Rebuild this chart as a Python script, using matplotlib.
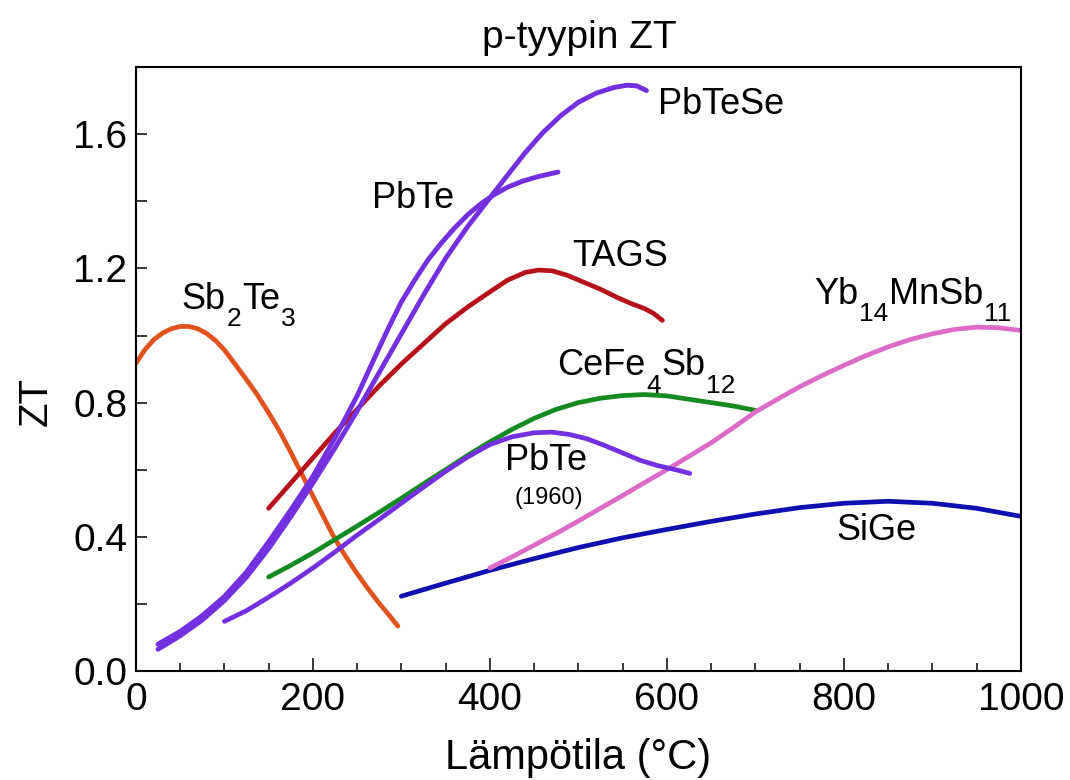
import matplotlib
matplotlib.use("Agg")
import matplotlib.pyplot as plt
from matplotlib.ticker import FixedLocator, MultipleLocator

plt.rcParams['font.family'] = ['Liberation Sans', 'DejaVu Sans']

# ---------------- data ----------------
sb2te3_T = [0, 10, 20, 30, 40, 50, 60, 70, 80, 90, 100, 112, 124, 136, 150, 163, 175, 185, 200, 212,
            223, 235, 248, 261, 274, 286, 296]
sb2te3_ZT = [0.917, 0.957, 0.987, 1.007, 1.02, 1.027, 1.027, 1.02, 1.006, 0.985, 0.957, 0.915, 0.872,
             0.828, 0.77, 0.712, 0.652, 0.6, 0.522, 0.46, 0.403, 0.35, 0.298, 0.25, 0.205, 0.167, 0.134]

tags_T = [150, 175, 200, 225, 250, 275, 300, 325, 350, 375, 400, 420, 440, 455, 470, 487, 505, 525, 545,
          560, 575, 585, 595]
tags_ZT = [0.485, 0.56, 0.635, 0.71, 0.78, 0.85, 0.915, 0.975, 1.035, 1.085, 1.13, 1.165, 1.188, 1.195,
           1.193, 1.18, 1.16, 1.138, 1.112, 1.095, 1.08, 1.066, 1.045]

pbte_T = [25, 50, 75, 100, 125, 150, 175, 200, 225, 250, 270, 285, 300, 315, 330, 345, 360, 375, 390,
          405, 420, 437, 455, 477]
pbte_ZT = [0.08, 0.118, 0.165, 0.222, 0.295, 0.385, 0.48, 0.58, 0.695, 0.82, 0.935, 1.02, 1.1, 1.165,
           1.225, 1.275, 1.32, 1.36, 1.393, 1.42, 1.442, 1.46, 1.474, 1.487]

pbtese_T = [25, 50, 75, 100, 125, 150, 175, 200, 225, 250, 275, 300, 325, 350, 375, 400, 420, 440, 460,
            480, 500, 520, 540, 555, 566, 577]
pbtese_ZT = [0.065, 0.105, 0.152, 0.21, 0.28, 0.365, 0.46, 0.56, 0.665, 0.775, 0.89, 1.005, 1.12, 1.23,
             1.325, 1.41, 1.478, 1.545, 1.605, 1.655, 1.695, 1.722, 1.739, 1.746, 1.744, 1.73]

pbte1960_T = [100, 125, 150, 175, 200, 225, 250, 275, 300, 325, 350, 375, 400, 425, 450, 470, 490, 510,
              530, 550, 570, 590, 610, 626]
pbte1960_ZT = [0.148, 0.18, 0.22, 0.262, 0.307, 0.355, 0.405, 0.452, 0.5, 0.548, 0.595, 0.638, 0.675,
               0.698, 0.71, 0.712, 0.705, 0.692, 0.672, 0.65, 0.628, 0.612, 0.6, 0.589]

cefe_T = [150, 175, 200, 225, 250, 275, 300, 325, 350, 375, 400, 425, 450, 475, 500, 525, 550, 575, 600,
          625, 650, 675, 700]
cefe_ZT = [0.28, 0.315, 0.352, 0.392, 0.432, 0.473, 0.515, 0.558, 0.6, 0.643, 0.683, 0.72, 0.753, 0.78,
           0.8, 0.813, 0.821, 0.824, 0.82, 0.81, 0.8, 0.79, 0.777]

ybmn_T = [400, 425, 450, 475, 500, 525, 550, 575, 600, 625, 650, 675, 700, 725, 750, 775, 800, 825, 850,
          875, 900, 925, 950, 975, 1000]
ybmn_ZT = [0.307, 0.34, 0.375, 0.41, 0.447, 0.485, 0.523, 0.562, 0.6, 0.64, 0.68, 0.725, 0.772, 0.81,
           0.847, 0.88, 0.911, 0.94, 0.966, 0.988, 1.005, 1.018, 1.025, 1.023, 1.015]

sige_T = [300, 350, 400, 450, 500, 550, 600, 650, 700, 750, 800, 850, 900, 950, 1000]
sige_ZT = [0.223, 0.262, 0.3, 0.335, 0.368, 0.397, 0.422, 0.446, 0.468, 0.487, 0.5, 0.506, 0.5, 0.485,
           0.461]

x_ticks = [0, 200, 400, 600, 800, 1000]
y_ticks = [0.0, 0.4, 0.8, 1.2, 1.6]
y_tick_labels = ["0.0", "0.4", "0.8", "1.2", "1.6"]

# ---------------- figure ----------------
fig = plt.figure(figsize=(10.7, 7.8), dpi=100)
ax = fig.add_axes([0.127, 0.1397, 0.827, 0.7743])

C_ORANGE = "#E0531E"
C_RED = "#B5121B"
C_PURPLE = "#7330DE"
C_GREEN = "#168A22"
C_PINK = "#DD6CC8"
C_BLUE = "#1010B0"

kw = dict(solid_capstyle='round', solid_joinstyle='round')
ax.plot(sb2te3_T, sb2te3_ZT, color=C_ORANGE, lw=3.4, **kw)
ax.plot(cefe_T, cefe_ZT, color=C_GREEN, lw=3.4, **kw)
ax.plot(sige_T, sige_ZT, color=C_BLUE, lw=3.4, **kw)
ax.plot(ybmn_T, ybmn_ZT, color=C_PINK, lw=3.4, **kw)
ax.plot(tags_T, tags_ZT, color=C_RED, lw=3.4, **kw)
ax.plot(pbte1960_T, pbte1960_ZT, color=C_PURPLE, lw=3.4, **kw)
ax.plot(pbte_T, pbte_ZT, color=C_PURPLE, lw=3.5, **kw)
ax.plot(pbtese_T, pbtese_ZT, color=C_PURPLE, lw=3.5, **kw)

ax.set_xlim(0, 1000)
ax.set_ylim(0, 1.8)

ax.xaxis.set_major_locator(FixedLocator(x_ticks))
ax.xaxis.set_minor_locator(MultipleLocator(50))
ax.yaxis.set_major_locator(FixedLocator(y_ticks))
ax.yaxis.set_minor_locator(FixedLocator([0.2, 0.6, 1.0, 1.4]))
ax.set_yticklabels(y_tick_labels)

ax.tick_params(axis='both', which='both', direction='in', top=False, right=False, width=1.1,
               labelsize=28)
ax.tick_params(axis='x', which='major', length=9.5, pad=8)
ax.tick_params(axis='x', which='minor', length=5.8)
ax.tick_params(axis='y', which='major', length=8, pad=6)
ax.tick_params(axis='y', which='minor', length=8)
for s in ax.spines.values():
    s.set_linewidth(1.5)

ax.set_xlabel("Lämpötila (°C)", fontsize=30)
ax.xaxis.label.set_va('baseline')
ax.xaxis.set_label_coords(0.5, -0.163)
ax.set_ylabel("ZT", fontsize=29)
ax.yaxis.set_label_coords(-0.092, 0.447)

fig.text(0.5415, 1 - 48 / 780, "p-tyypin ZT", fontsize=28, ha='center', va='baseline')


# ---------------- labels with subscripts ----------------
def chem(x, y, parts, size=26, subsize=19):
    first = ax.text(x, y, parts[0][0], fontsize=size, ha='left', va='baseline')
    prev = first
    prev_main = first
    for s, sub in parts[1:]:
        if sub:
            t = ax.annotate(s, xy=(1, 0), xycoords=(prev, prev_main),
                            xytext=(0.5, 0.21 * size + 1.5), textcoords='offset points',
                            fontsize=subsize, ha='left', va='top')
        else:
            t = ax.annotate(s, xy=(1, 0), xycoords=(prev, prev_main),
                            xytext=(0.5, 0), textcoords='offset points',
                            fontsize=size, ha='left', va='bottom')
            prev_main = t
        prev = t


chem(52, 1.08, [("Sb", False), ("2", True), ("Te", False), ("3", True)])
chem(267, 1.381, [("PbTe", False)])
chem(590, 1.661, [("PbTeSe", False)])
chem(493, 1.208, [("TAGS", False)])
chem(476, 0.881, [("CeFe", False), ("4", True), ("Sb", False), ("12", True)])
chem(767, 1.095, [("Yb", False), ("14", True), ("MnSb", False), ("11", True)])
chem(417, 0.598, [("PbTe", False)])
ax.text(467, 0.497, "(1960)", fontsize=17, ha='center', va='baseline')
chem(792, 0.39, [("SiGe", False)])

fig.savefig("out.png", dpi=100)
